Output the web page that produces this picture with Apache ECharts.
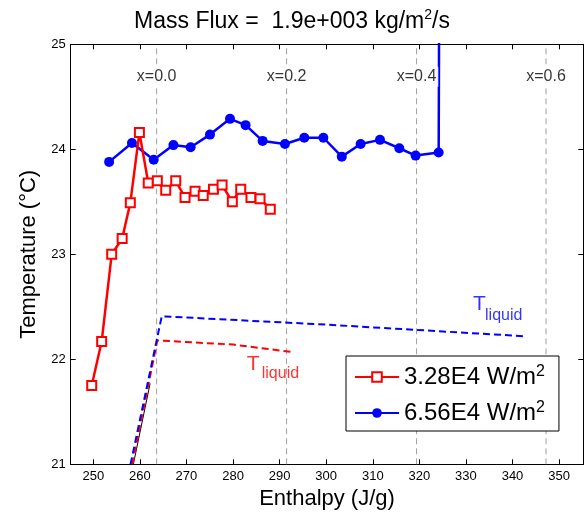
<!DOCTYPE html>
<html><head><meta charset="utf-8">
<script src="https://cdn.jsdelivr.net/npm/echarts@6/dist/echarts.min.js"></script>
<style>html,body{margin:0;padding:0;background:#fff}#c{width:584px;height:516px}</style>
</head><body><div id="c"></div>
<script>
// ---- data ----
const enthalpyRed = [249.66, 251.8, 253.95, 256.2, 257.95, 259.9, 261.8, 263.75, 265.55, 267.7, 269.7, 271.85, 273.6, 275.8, 277.65, 279.85, 281.65, 283.85, 285.8, 288.0];
const tempRed     = [21.75, 22.17, 23.00, 23.15, 23.49, 24.16, 23.68, 23.70, 23.61, 23.70, 23.54, 23.60, 23.56, 23.62, 23.66, 23.50, 23.62, 23.54, 23.53, 23.43];
const enthalpyBlue = [253.4, 258.3, 262.97, 267.2, 270.9, 275.05, 279.35, 282.7, 286.35, 291.15, 295.3, 299.4, 303.35, 307.4, 311.55, 315.7, 319.2, 324.15];
const tempBlue     = [23.88, 24.06, 23.90, 24.04, 24.02, 24.14, 24.29, 24.23, 24.08, 24.05, 24.11, 24.11, 23.93, 24.05, 24.09, 24.01, 23.94, 23.97];
const blueJump = [324.3, 26.0];          // off-scale final reading (clipped)
const liqRedH  = [258.4, 263.75, 280.1, 292.6];
const liqRedT  = [21.0, 22.18, 22.14, 22.07];
const liqBlueH = [258.0, 264.7, 300.0, 342.5];
const liqBlueT = [21.0, 22.41, 22.33, 22.22];
const wallH = [258.6, 262.2];
const wallT = [21.0, 21.77];
const qualityH = [263.6, 291.5, 319.4, 347.2];
const qualityLabels = ['x=0.0', 'x=0.2', 'x=0.4', 'x=0.6'];
const qualityLabelT = 24.69;
const annotText = ['T', 'liquid', 'T', 'liquid'];
const annotH = [282.94, 286.16, 331.54, 334.11];
const annotT = [21.953, 21.865, 22.522, 22.417];
const seriesNames = ['3.28E4 W/m2', '6.56E4 W/m2'];
const xMin = 245.15, xMax = 355.2, yMin = 21, yMax = 25;

// ---- chart ----
const FONT = '"Liberation Sans", Arial, Helvetica, sans-serif';
const zip = (xs, ys) => xs.map((x, i) => [x, ys[i]]);
const chart = echarts.init(document.getElementById('c'));
const axLine = {show: true, onZero: false, lineStyle: {color: '#000', width: 1}};
const axTick = {show: true, inside: true, length: 5, lineStyle: {color: '#000', width: 1}};
const xBase = {type: 'value', min: xMin, max: xMax, minInterval: 10, maxInterval: 10, splitNumber: 11,
  splitLine: {show: false}, axisLine: axLine, axisTick: axTick};
const yBase = {type: 'value', min: yMin, max: yMax, interval: 1,
  splitLine: {show: false}, axisLine: axLine, axisTick: axTick};
const annotColors = ['#ff0000', '#ff0000', '#0000ff', '#0000ff'];

chart.setOption({
  animation: false,
  backgroundColor: '#fff',
  textStyle: {fontFamily: FONT},
  title: {
    text: '{a|Mass Flux =  1.9e+003 kg/m}{b|2}{a|/s}',
    left: 'center', top: 8, padding: [0, 0, 0, 64],
    textStyle: {fontWeight: 'normal', rich: {
      a: {fontSize: 23, lineHeight: 28, color: '#000', fontFamily: FONT, fontWeight: 'normal'},
      b: {fontSize: 14, lineHeight: 20, verticalAlign: 'top', color: '#000', fontFamily: FONT, fontWeight: 'normal'}
    }}
  },
  grid: {left: 70.7, right: 0.7, top: 44.3, bottom: 51.7, outerBoundsMode: 'none', containLabel: false},
  legend: {
    data: seriesNames, orient: 'vertical', left: 346, top: 356,
    padding: [8, 14, 6, 8], itemGap: 11, itemWidth: 44, itemHeight: 12,
    borderColor: '#000', borderWidth: 1, backgroundColor: '#fff',
    selectedMode: false,
    formatter: n => '{a|' + n.slice(0, -1) + '}{b|2}',
    textStyle: {rich: {
      a: {fontSize: 24, lineHeight: 26, color: '#000', fontFamily: FONT},
      b: {fontSize: 16, lineHeight: 16, verticalAlign: 'top', color: '#000', fontFamily: FONT}
    }}
  },
  xAxis: [
    Object.assign({}, xBase, {
      position: 'bottom',
      name: 'Enthalpy (J/g)', nameLocation: 'middle', nameGap: 21,
      nameTextStyle: {fontSize: 22, color: '#000', fontFamily: FONT},
      axisLabel: {color: '#000', fontSize: 13, fontFamily: FONT, margin: 6,
        formatter: v => (Math.abs(v % 10) < 1e-6 ? String(v) : '')}
    }),
    Object.assign({}, xBase, {position: 'top', axisLabel: {show: false}})
  ],
  yAxis: [
    Object.assign({}, yBase, {
      position: 'left',
      name: 'Temperature (°C)', nameLocation: 'middle', nameGap: 28, nameRotate: 90,
      nameTextStyle: {fontSize: 22, color: '#000', fontFamily: FONT},
      axisLabel: {color: '#000', fontSize: 13, fontFamily: FONT, margin: 5}
    }),
    Object.assign({}, yBase, {position: 'right', axisLabel: {show: false}})
  ],
  series: [
    ...qualityH.map(h => ({
      type: 'line', data: [[h, yMin], [h, yMax]], symbol: 'none', silent: true, z: 1,
      lineStyle: {color: '#a0a0a0', width: 1, type: [6, 4]}
    })),
    {type: 'line', data: zip(wallH, wallT), symbol: 'none', silent: true, z: 2,
      lineStyle: {color: '#000', width: 1}},
    {type: 'line', data: zip(liqRedH, liqRedT), symbol: 'none', silent: true, z: 2,
      lineStyle: {color: '#ff0000', width: 2, type: [7, 4]}},
    {type: 'line', data: zip(liqBlueH, liqBlueT), symbol: 'none', silent: true, z: 2,
      lineStyle: {color: '#0000ff', width: 2, type: [7, 4]}},
    {type: 'line', name: seriesNames[1],
      data: [...zip(enthalpyBlue, tempBlue), {value: blueJump, symbol: 'none'}],
      symbol: 'circle', symbolSize: 10, z: 3, clip: true,
      lineStyle: {color: '#0000ff', width: 2.5}, itemStyle: {color: '#0000ff'}},
    {type: 'line', name: seriesNames[0], data: zip(enthalpyRed, tempRed),
      symbol: 'emptyRect', symbolSize: 9, z: 4,
      lineStyle: {color: '#ff0000', width: 2.5}, itemStyle: {color: '#ff0000', borderWidth: 2}},
    {type: 'scatter', silent: true, z: 10, symbolSize: 0,
      data: qualityH.map((h, i) => ({name: qualityLabels[i], value: [h, qualityLabelT]})),
      label: {show: true, position: 'inside', formatter: '{b}', color: '#000', fontSize: 16,
        fontFamily: FONT, backgroundColor: '#fff', padding: [2, 2]}},
    {type: 'scatter', silent: true, z: 10, symbolSize: 0,
      data: annotText.map((t, i) => ({name: t, value: [annotH[i], annotT[i]],
        label: {color: annotColors[i], fontSize: i % 2 === 0 ? 21 : 16}})),
      label: {show: true, position: 'right', distance: 0, formatter: '{b}', fontFamily: FONT}}
  ]
});
</script></body></html>
